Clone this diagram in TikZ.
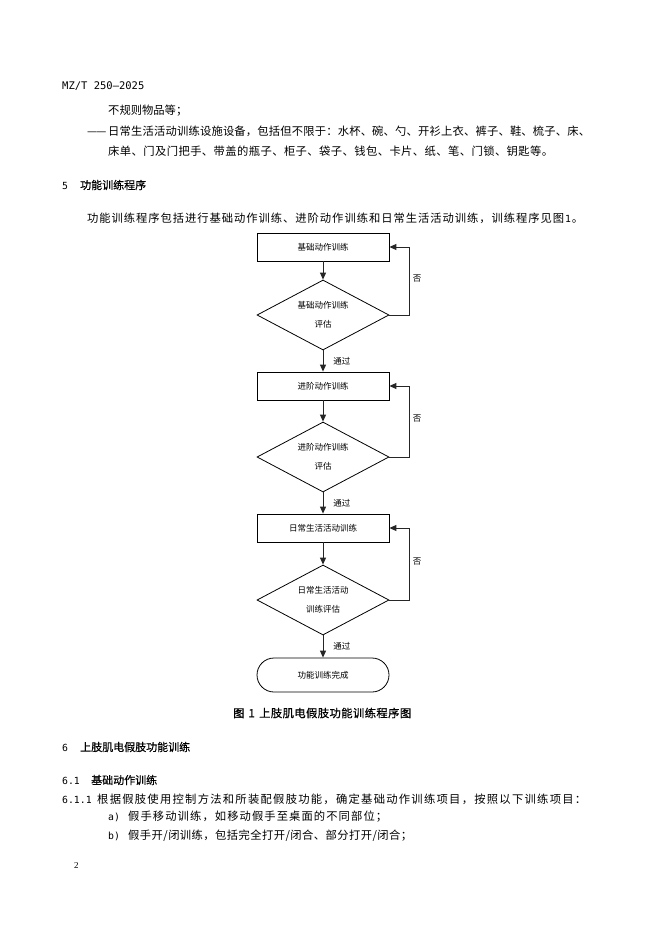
\documentclass[tikz,border=0pt]{standalone}
\usepackage{fontspec}
\setmainfont{Noto Sans CJK SC}
\newfontfamily\monof{DejaVu Sans Mono}
\newfontfamily\serifnum{Liberation Serif}
\newfontfamily\heifont[FakeBold=0.9]{Noto Sans CJK SC}
\newfontfamily\headfont[FakeBold=0.5]{Noto Sans CJK SC}
\usetikzlibrary{arrows.meta,shapes.geometric}
\newcommand{\bodyfont}{\fontsize{11.3}{13}\selectfont}
\newcommand{\latn}[1]{{\monof\fontsize{9.8}{13}\selectfont #1}}
\makeatletter
\newcommand{\spreadto}[2]{\hbox to #1{\@tfor\spr@c:=#2\do{\spr@c\hskip 0pt plus 1fil}\unskip}}
\makeatother
\tikzset{
  txt/.style={anchor=west, inner sep=0pt, font=\bodyfont},
  headtxt/.style={anchor=west, inner sep=0pt, font=\headfont\fontsize{11}{13}\selectfont},
  captxt/.style={anchor=west, inner sep=0pt, font=\heifont\fontsize{11.3}{13}\selectfont},
  stepbox/.style={draw, line width=0.8pt, minimum width=132pt, minimum height=28pt, inner sep=0pt, font=\fontsize{8.5}{10}\selectfont},
  decide/.style={draw, diamond, line width=0.8pt, aspect=1.9, minimum width=132pt, minimum height=70pt, inner sep=0pt, align=center, font=\fontsize{8.5}{19}\selectfont},
  endbox/.style={draw, line width=0.8pt, rounded corners=17pt, minimum width=132pt, minimum height=34pt, inner sep=0pt, font=\fontsize{8.5}{10}\selectfont},
  flow/.style={line width=0.9pt, draw=black!85, -{Triangle[length=7pt,width=6pt]}},
  lbl/.style={inner sep=0pt, anchor=west, font=\fontsize{8.5}{10}\selectfont}
}
\begin{document}
\begin{tikzpicture}[x=1pt,y=-1pt]
\useasboundingbox (0,0) rectangle (662,936);
\fill[white] (0,0) rectangle (662,936);

% page text
\node[anchor=west, inner sep=0pt, font=\monof\fontsize{10.5}{12}\selectfont] (hdr) at (62,86) {MZ/T 250—2025};
\node[txt] (t1) at (108,111) {不规则物品等；};
\node[txt] (t2) at (87,131) {\makebox[21pt][s]{—\hspace{-1pt}—}\spreadto{482pt}{日常生活活动训练设施设备，包括但不限于：水杯、碗、勺、开衫上衣、裤子、鞋、梳子、床、}};
\node[txt] (t3) at (108,151) {\spreadto{445pt}{床单、门及门把手、带盖的瓶子、柜子、袋子、钱包、卡片、纸、笔、门锁、钥匙等。}};
\node[headtxt] (h5) at (62,185) {\makebox[18pt][l]{\latn{5}}功能训练程序};
\node[txt] (t4) at (87,218) {\spreadto{496pt}{功能训练程序包括进行基础动作训练、进阶动作训练和日常生活活动训练，训练程序见图{\latn{1}}。}};

% flowchart
\node[stepbox] (b1) at (323,247) {基础动作训练};
\node[decide] (d1) at (323,315) {基础动作训练\\评估};
\node[stepbox] (b2) at (323,386) {进阶动作训练};
\node[decide] (d2) at (323,457) {进阶动作训练\\评估};
\node[stepbox] (b3) at (323,528) {日常生活活动训练};
\node[decide] (d3) at (323,600) {日常生活活动\\训练评估};
\node[endbox] (e) at (323,675) {功能训练完成};

\coordinate (c1) at (409,247);
\coordinate (c2) at (409,386);
\coordinate (c3) at (409,528);

\draw[flow] (b1) -- (d1);
\draw[flow] (d1) -- node[lbl, xshift=10pt]{通过} (b2);
\draw[flow] (b2) -- (d2);
\draw[flow] (d2) -- node[lbl, xshift=10pt]{通过} (b3);
\draw[flow] (b3) -- (d3);
\draw[flow] (d3) -- node[lbl, xshift=10pt]{通过} (e);

\draw[flow] (d1.east) -| node[lbl, pos=0.77, xshift=3.5pt]{否} (c1) -- (b1.east);
\draw[flow] (d2.east) -| node[lbl, pos=0.77, xshift=3.5pt]{否} (c2) -- (b2.east);
\draw[flow] (d3.east) -| node[lbl, pos=0.77, xshift=3.5pt]{否} (c3) -- (b3.east);

\node[captxt] (cap) at (233,713) {\makebox[26pt][l]{图\hspace{4pt}1}\spreadto{152pt}{上肢肌电假肢功能训练程序图}};

\node[headtxt] (h6) at (62,747) {\makebox[18pt][l]{\latn{6}}上肢肌电假肢功能训练};
\node[headtxt] (h61) at (62,780) {\makebox[29pt][l]{\latn{6.1}}基础动作训练};
\node[txt] (t5) at (62,799) {\makebox[35pt][l]{\latn{6.1.1}}\spreadto{489pt}{根据假肢使用控制方法和所装配假肢功能，确定基础动作训练项目，按照以下训练项目：}};
\node[txt] (t6) at (108,817) {\makebox[20pt][l]{\latn{a)}}\spreadto{259pt}{假手移动训练，如移动假手至桌面的不同部位；}};
\node[txt] (t7) at (108,836) {\makebox[20pt][l]{\latn{b)}}\spreadto{284pt}{假手开/闭训练，包括完全打开/闭合、部分打开/闭合；}};
\node[anchor=west, inner sep=0pt, font=\serifnum\fontsize{9}{10}\selectfont] (pg) at (74,866) {2};
\end{tikzpicture}
\end{document}
